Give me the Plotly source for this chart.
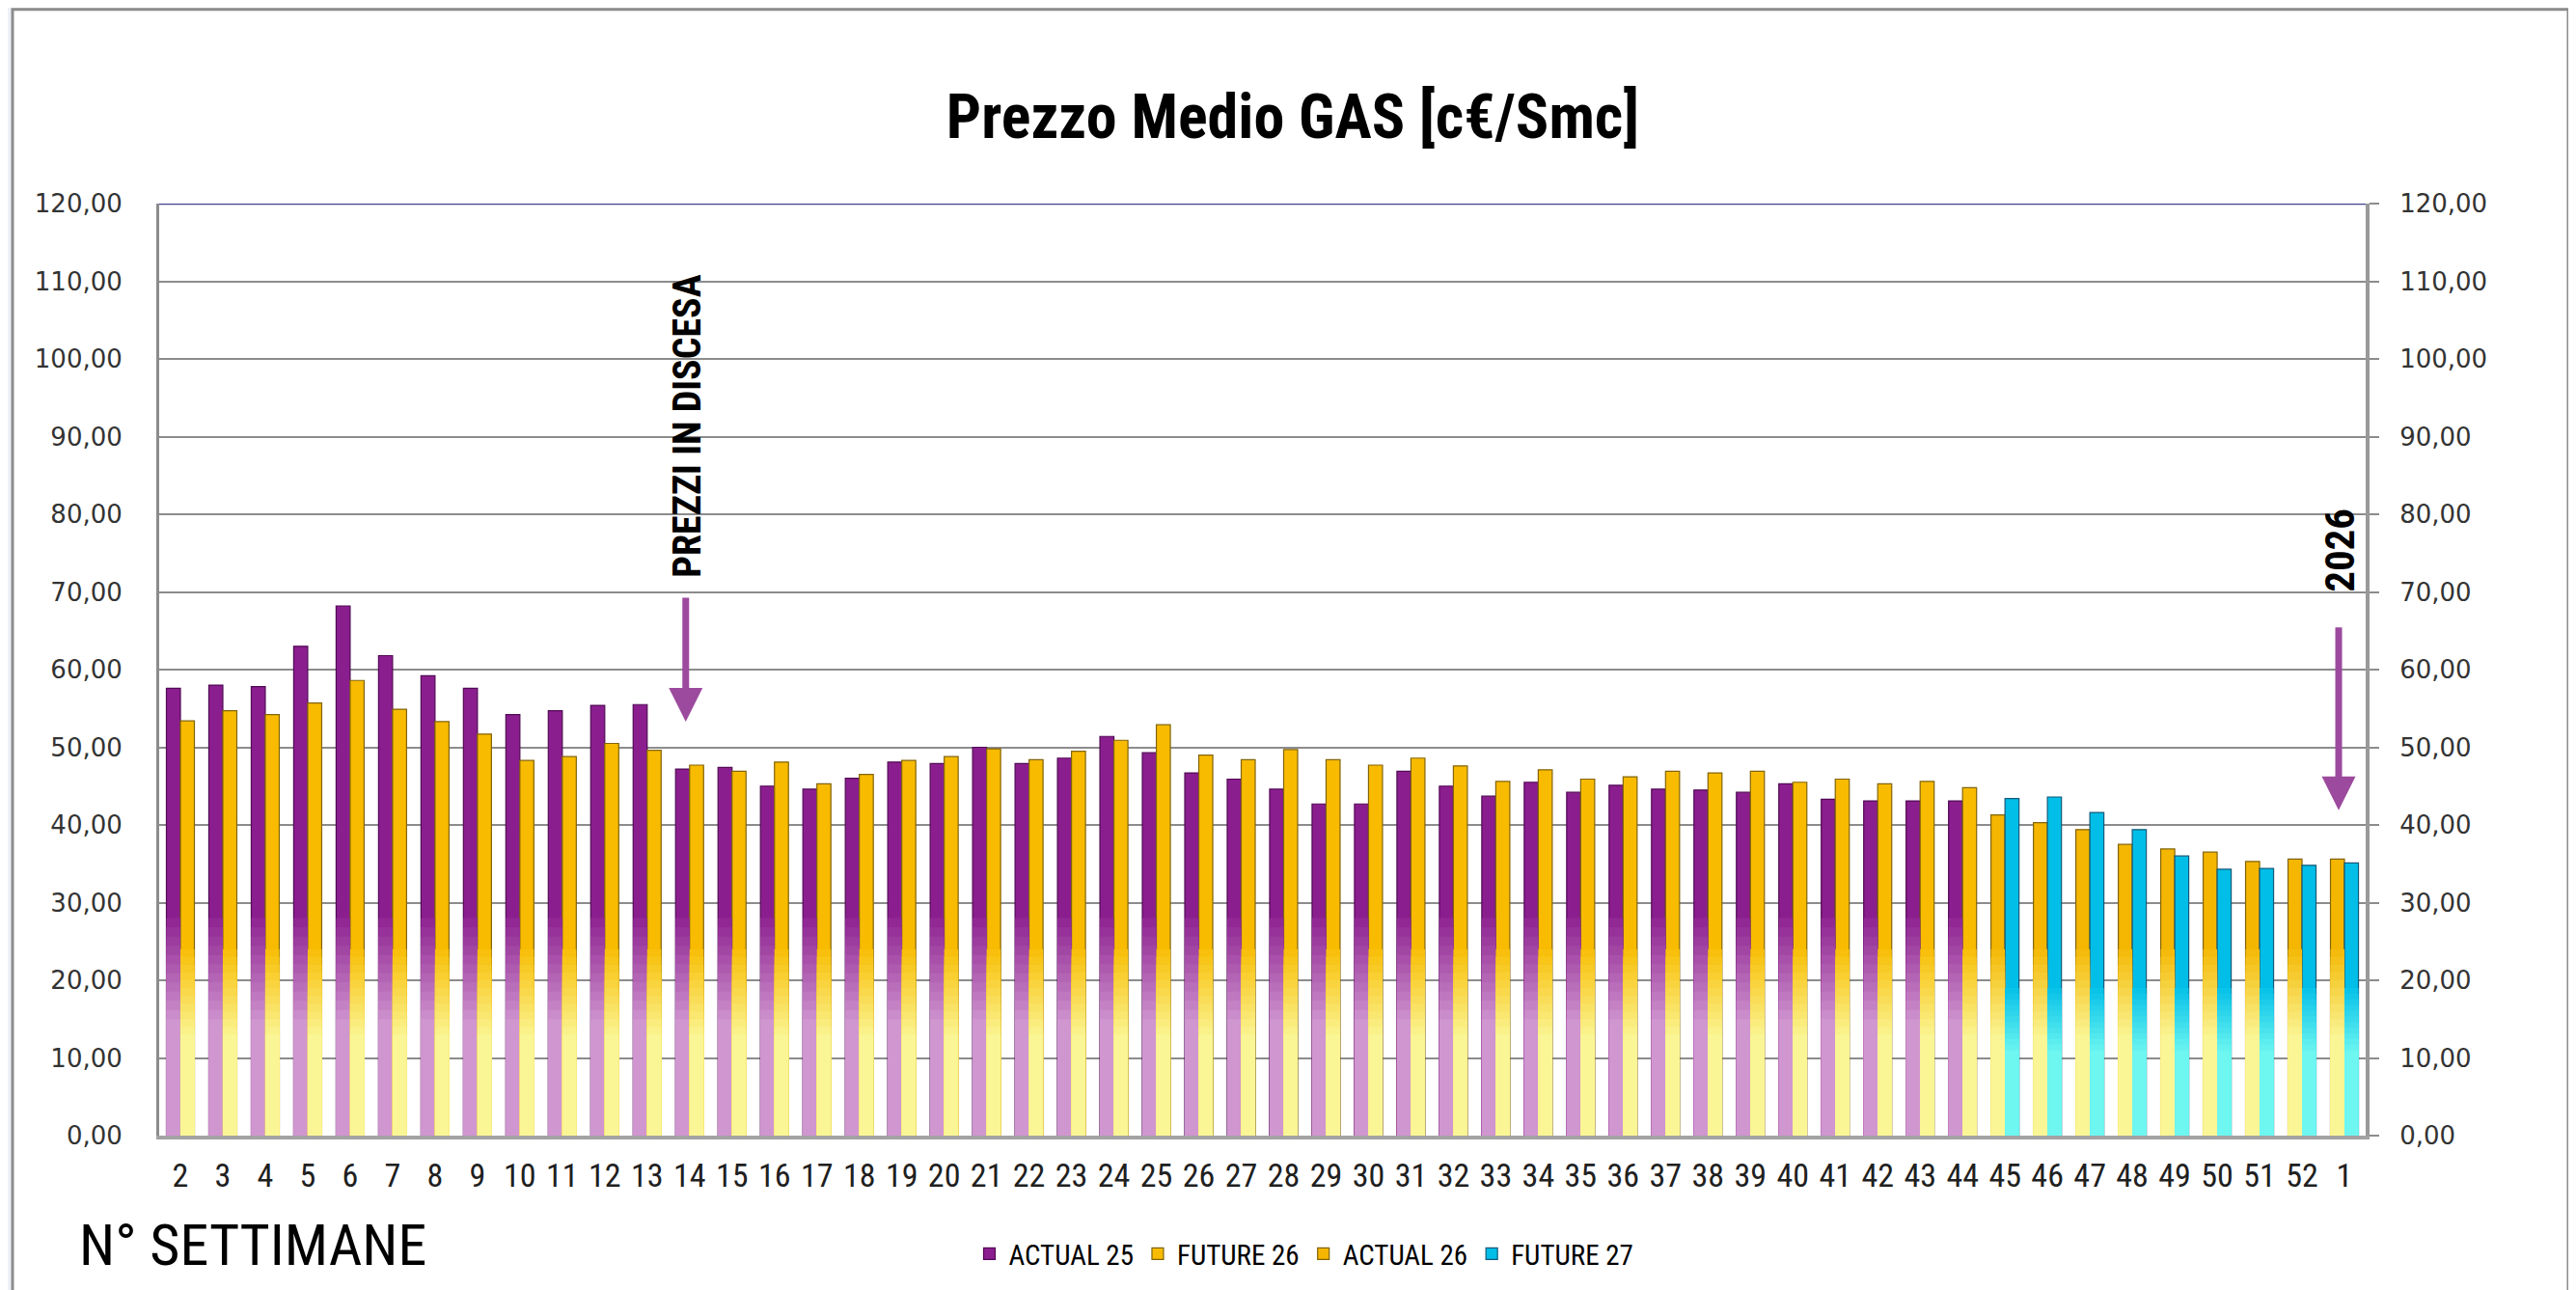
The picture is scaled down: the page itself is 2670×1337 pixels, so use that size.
import plotly.graph_objects as go

# ---------------- data ----------------
weeks = ["2", "3", "4", "5", "6", "7", "8", "9", "10", "11", "12", "13", "14",
         "15", "16", "17", "18", "19", "20", "21", "22", "23", "24", "25", "26",
         "27", "28", "29", "30", "31", "32", "33", "34", "35", "36", "37", "38",
         "39", "40", "41", "42", "43", "44", "45", "46", "47", "48", "49", "50",
         "51", "52", "1"]

# weeks 2..44
actual_25 = [57.6, 58.0, 57.8, 63.0, 68.2, 61.8, 59.2, 57.6, 54.2, 54.7, 55.4, 55.5,
             47.2, 47.4, 45.0, 44.6, 46.0, 48.1, 47.9, 50.0, 47.9, 48.6, 51.4, 49.3,
             46.7, 45.9, 44.6, 42.7, 42.7, 46.9, 45.0, 43.7, 45.5, 44.2, 45.1, 44.6,
             44.5, 44.2, 45.3, 43.3, 43.1, 43.1, 43.1]
future_26 = [53.4, 54.7, 54.2, 55.7, 58.6, 54.9, 53.3, 51.7, 48.3, 48.8, 50.5, 49.6,
             47.7, 46.9, 48.1, 45.3, 46.5, 48.3, 48.8, 49.8, 48.4, 49.5, 50.9, 52.9,
             49.0, 48.4, 49.7, 48.4, 47.7, 48.6, 47.6, 45.6, 47.1, 45.9, 46.2, 46.9,
             46.7, 46.9, 45.5, 45.9, 45.3, 45.6, 44.8]
# weeks 45..52, 1
actual_26 = [41.3, 40.3, 39.4, 37.5, 36.9, 36.5, 35.3, 35.6, 35.6]
future_27 = [43.4, 43.6, 41.6, 39.4, 36.0, 34.3, 34.4, 34.8, 35.1]

y_ticks = [0, 10, 20, 30, 40, 50, 60, 70, 80, 90, 100, 110, 120]

title_text = "Prezzo Medio GAS [c€/Smc]"
x_title = "N° SETTIMANE"

# ---------------- styling helpers ----------------
NARROW = "Liberation Sans Narrow, Arial Narrow, Roboto Condensed, Lato, sans-serif"


def mix(c1, c2, t):
    return "rgb(%d,%d,%d)" % tuple(round(a + (b - a) * t) for a, b in zip(c1, c2))


n25 = len(actual_25)
series = [
    dict(name="ACTUAL 25", x=weeks[:n25], y=actual_25, group="a",
         dark=(139, 30, 142), light=(208, 150, 208), line="rgb(80,10,85)", fade=(28, 15)),
    dict(name="FUTURE 26", x=weeks[:n25], y=future_26, group="b",
         dark=(248, 187, 0), light=(250, 246, 150), line="rgb(130,100,10)", fade=(24, 13)),
    dict(name="ACTUAL 26", x=weeks[n25:], y=actual_26, group="a",
         dark=(244, 182, 0), light=(250, 246, 150), line="rgb(130,100,10)", fade=(24, 13)),
    dict(name="FUTURE 27", x=weeks[n25:], y=future_27, group="b",
         dark=(0, 190, 232), light=(110, 246, 240), line="rgb(20,90,120)", fade=(19, 11)),
]

fig = go.Figure()

# main bars (legend entries)
for s in series:
    fig.add_trace(go.Bar(
        name=s["name"], x=s["x"], y=s["y"], offsetgroup=s["group"],
        marker=dict(color=mix(s["dark"], s["dark"], 0), line=dict(color=s["line"], width=1.2)),
    ))

# lighter bottom fade (overlaid in same slot)
STEPS = 12
for s in series:
    hi, lo = s["fade"]
    for i in range(STEPS):
        h = hi - (hi - lo) * i / (STEPS - 1)
        t = (i + 1) / STEPS
        fig.add_trace(go.Bar(
            x=s["x"], y=[min(v, h) for v in s["y"]], offsetgroup=s["group"],
            marker=dict(color=mix(s["dark"], s["light"], t), line=dict(width=0)),
            showlegend=False, hoverinfo="skip",
        ))

# invisible trace to anchor right-hand axis
fig.add_trace(go.Scatter(x=[weeks[0]], y=[0], yaxis="y2", mode="lines",
                         line=dict(width=0), showlegend=False, hoverinfo="skip"))

# page has an 8px body margin: work in page pixels, convert to figure pixels
OFF = 8
W, H = 2670 - OFF, 1337 - OFF
PL, PR, PT, PB = 165, 2452, 211, 1180          # plot area in page pixels
ML, MT = PL - OFF, PT - OFF
MR, MB = W - (PR - OFF), H - (PB - OFF)
PW, PH = PR - PL, PB - PT


def px_x(px):
    return (px - PL) / PW


def px_y(py):
    return (PB - py) / PH


fig.update_layout(
    width=W, height=H,
    margin=dict(l=ML, r=MR, t=MT, b=MB, pad=0),
    paper_bgcolor="#edf1f7",
    plot_bgcolor="rgba(0,0,0,0)",
    separators=",.",
    barmode="group",
    bargap=0.34,
    bargroupgap=0.0,
    title=dict(text="<b>" + title_text + "</b>", x=(1340 - OFF) / W, xref="container", xanchor="center",
               y=1 - (121 - OFF) / H, yref="container", yanchor="middle",
               font=dict(family=NARROW, size=64, color="black")),
    xaxis=dict(type="category", categoryorder="array", categoryarray=weeks,
               range=[-0.5, len(weeks) - 0.5],
               showgrid=False, zeroline=False, showline=True, linecolor="#a3a3a3", linewidth=4,
               ticks="", ticklabelstandoff=8,
               tickfont=dict(family=NARROW, size=34, color="#202020")),
    yaxis=dict(range=[0, 120], tickvals=y_ticks, tickformat=".2f",
               showgrid=True, gridcolor="#8c8c8c", gridwidth=2, zeroline=False,
               showline=True, linecolor="#8c8c8c", linewidth=3, ticks="",
               ticklabelstandoff=30,
               tickfont=dict(family="DejaVu Sans", size=26, color="#333333")),
    yaxis2=dict(range=[0, 120], tickvals=y_ticks, tickformat=".2f", overlaying="y", side="right",
                showgrid=False, zeroline=False, showline=True, linecolor="#999999", linewidth=4,
                ticks="outside", ticklen=10, tickwidth=2, tickcolor="#8c8c8c",
                ticklabelstandoff=16,
                tickfont=dict(family="DejaVu Sans", size=26, color="#333333")),
    legend=dict(orientation="h", x=px_x(1352), xanchor="center", y=px_y(1303), yanchor="middle",
                font=dict(family=NARROW, size=29, color="black"), bgcolor="rgba(0,0,0,0)",
                traceorder="normal"),
    showlegend=True,
)

fig.add_shape(type="rect", xref="paper", yref="paper",
              x0=px_x(13), x1=px_x(2662), y0=px_y(1400), y1=px_y(9),
              fillcolor="white", line=dict(color="#8c8c8c", width=3), layer="below")
fig.add_shape(type="line", xref="paper", yref="y", x0=0, x1=1, y0=120, y1=120,
              line=dict(color="#42428f", width=2.5))

ARROW = "#9c4a9e"
i14 = weeks.index("14")
i1 = weeks.index("1")
fig.add_annotation(x=i14, y=91.3, xref="x", yref="y", text="<b>PREZZI IN DISCESA</b>",
                   textangle=-90, showarrow=False, xshift=-3,
                   font=dict(family=NARROW, size=40, color="black"))
fig.add_annotation(x=i14, y=53.3, xref="x", yref="y", text="", showarrow=True,
                   ax=0, ay=-130, arrowcolor=ARROW, arrowwidth=7, arrowhead=2, arrowsize=1,
                   xshift=-4, standoff=0)
fig.add_annotation(x=i1, y=75.3, xref="x", yref="y", text="<b>2026</b>",
                   textangle=-90, showarrow=False, xshift=-5,
                   font=dict(family=NARROW, size=43, color="black"))
fig.add_annotation(x=i1, y=41.9, xref="x", yref="y", text="", showarrow=True,
                   ax=0, ay=-191, arrowcolor=ARROW, arrowwidth=7, arrowhead=2, arrowsize=1,
                   xshift=-6, standoff=0)
fig.add_annotation(x=px_x(80), y=px_y(1294), xref="paper", yref="paper", text=x_title,
                   showarrow=False, xanchor="left", yanchor="middle",
                   font=dict(family=NARROW, size=60, color="black"))

fig.write_html("out.html")
